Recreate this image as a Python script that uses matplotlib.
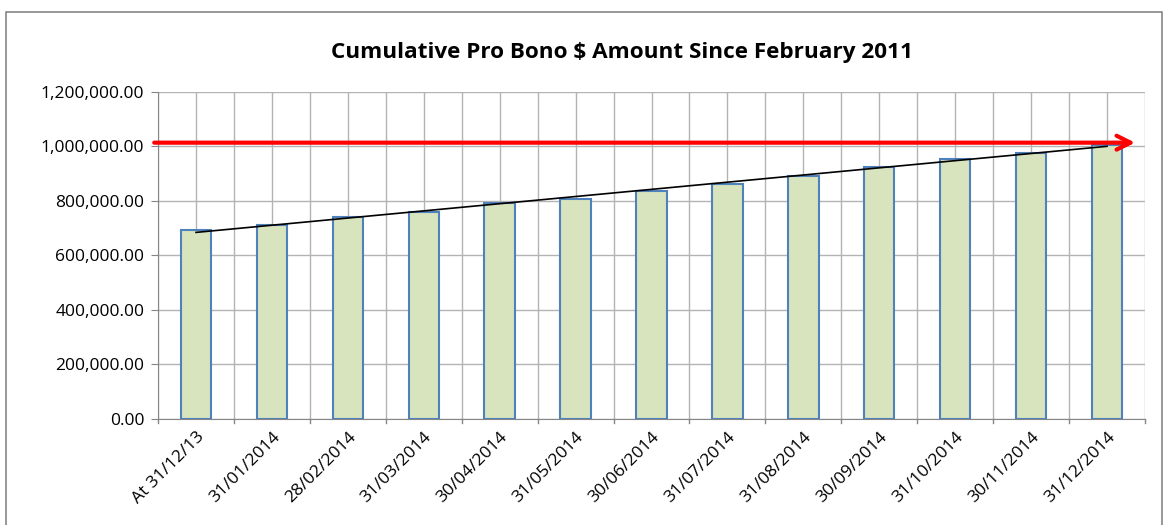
import numpy as np
import matplotlib.pyplot as plt
from matplotlib.patches import Rectangle

# Data
DATES = ["At 31/12/13", "31/01/2014", "28/02/2014", "31/03/2014", "30/04/2014",
         "31/05/2014", "30/06/2014", "31/07/2014", "31/08/2014", "30/09/2014",
         "31/10/2014", "30/11/2014", "31/12/2014"]
AMOUNTS = [693000, 711000, 742000, 758000, 794000, 807000, 837000,
           864000, 890000, 924000, 955000, 975000, 1005000]
TARGET = 1014000
Y_TICKS = [0, 200000, 400000, 600000, 800000, 1000000, 1200000]

plt.rcParams['font.family'] = ['Open Sans', 'DejaVu Sans']

fig = plt.figure(figsize=(11.68, 5.25), dpi=100)
ax = fig.add_axes([0.1353, 0.2019, 0.8450, 0.6229])

x = np.arange(len(DATES))
ax.bar(x, AMOUNTS, width=0.4, color="#d7e4bd", edgecolor="#4f81bd", linewidth=1.5, zorder=3)

# linear trendline
slope, intercept = np.polyfit(x, AMOUNTS, 1)
ax.plot(x[[0, -1]], slope * x[[0, -1]] + intercept, color="black", linewidth=1.2, zorder=4)

# red target arrow
ax.annotate("", xy=(12.37, TARGET), xytext=(-0.55, TARGET),
            arrowprops=dict(arrowstyle="->,head_length=1.0,head_width=0.5",
                            color="red", linewidth=3, shrinkA=0, shrinkB=0),
            annotation_clip=False, zorder=5)

ax.set_xlim(-0.5, len(DATES) - 0.5)
ax.set_ylim(0, 1200000)
ax.set_yticks(Y_TICKS)
ax.set_yticklabels([f"{v:,.2f}" for v in Y_TICKS], fontsize=12.5)
ax.set_xticks(x)
ax.set_xticklabels(DATES, rotation=45, ha="right", rotation_mode="anchor", fontsize=12.5)
ax.tick_params(axis="x", length=0, pad=7)
ax.tick_params(axis="y", length=5, color="#868686", pad=5)

# gridlines at category boundaries and centres
for xv in np.arange(-0.5, len(DATES), 0.5):
    ax.axvline(xv, color="#b3b3b3", linewidth=1, zorder=1)
for yv in Y_TICKS:
    ax.axhline(yv, color="#b3b3b3", linewidth=1, zorder=1)
for xv in np.arange(-0.5, len(DATES), 1.0):
    ax.plot([xv, xv], [0, -14000], color="#868686", linewidth=1, clip_on=False)

for side in ["top", "right"]:
    ax.spines[side].set_visible(False)
ax.spines["left"].set_color("#868686")
ax.spines["bottom"].set_color("#868686")

fig.text(0.5325, 0.90, "Cumulative Pro Bono $ Amount Since February 2011", fontsize=16.2,
         fontweight="bold", ha="center", va="center")

fig.patches.append(Rectangle((0.005, -0.01), 0.99, 0.987, transform=fig.transFigure,
                             fill=False, edgecolor="#868686", linewidth=1.2))

fig.savefig("out.png", dpi=100)
